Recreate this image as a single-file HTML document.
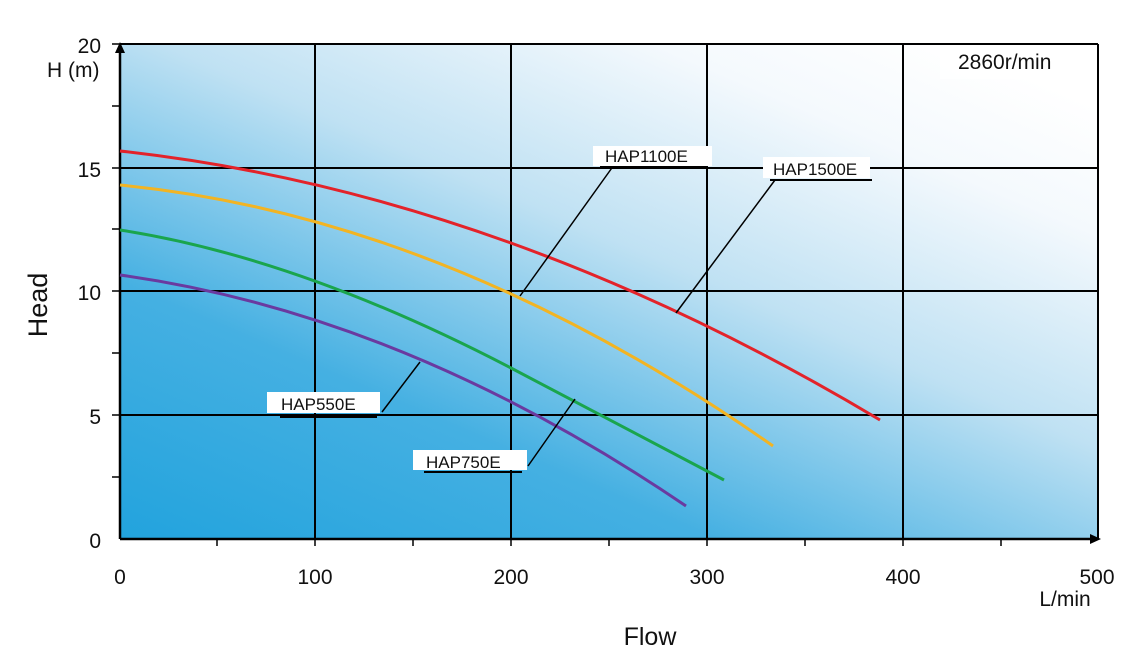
<!DOCTYPE html>
<html><head><meta charset="utf-8"><style>
body{margin:0;background:#fff;}
svg{display:block;font-family:"Liberation Sans","DejaVu Sans",sans-serif;}
</style></head><body>
<svg width="1145" height="670" viewBox="0 0 1145 670">
<defs>
<linearGradient id="bg" x1="0" y1="1" x2="0.85" y2="0" gradientUnits="objectBoundingBox">
<stop offset="0" stop-color="#22a3dd"/>
<stop offset="0.3" stop-color="#45b0e2"/>
<stop offset="0.6" stop-color="#bfe1f3"/>
<stop offset="0.85" stop-color="#f4f9fd"/>
<stop offset="1" stop-color="#ffffff"/>
</linearGradient>
</defs>
<rect x="120" y="44" width="978" height="495" fill="url(#bg)"/>
<rect x="940" y="47" width="150" height="32" fill="#fff" opacity="0.7"/>
<g stroke="#000" stroke-width="2" fill="none">
<line x1="315" y1="44" x2="315" y2="539"/>
<line x1="511" y1="44" x2="511" y2="539"/>
<line x1="707" y1="44" x2="707" y2="539"/>
<line x1="903" y1="44" x2="903" y2="539"/>
<line x1="120" y1="168" x2="1098" y2="168"/>
<line x1="120" y1="291" x2="1098" y2="291"/>
<line x1="120" y1="415" x2="1098" y2="415"/>
<line x1="120" y1="44" x2="1098" y2="44"/>
<line x1="1098" y1="44" x2="1098" y2="539"/>
<line x1="120" y1="539" x2="1092" y2="539" stroke-width="2.5"/>
<line x1="120" y1="52" x2="120" y2="539" stroke-width="2.5"/>
</g>
<g stroke="#000" stroke-width="1.5">
<line x1="112" y1="44" x2="120" y2="44"/><line x1="112" y1="106" x2="120" y2="106"/><line x1="112" y1="168" x2="120" y2="168"/><line x1="112" y1="229" x2="120" y2="229"/><line x1="112" y1="291" x2="120" y2="291"/><line x1="112" y1="353" x2="120" y2="353"/><line x1="112" y1="415" x2="120" y2="415"/><line x1="112" y1="477" x2="120" y2="477"/>
<line x1="217" y1="539" x2="217" y2="546"/><line x1="315" y1="539" x2="315" y2="546"/><line x1="413" y1="539" x2="413" y2="546"/><line x1="511" y1="539" x2="511" y2="546"/><line x1="609" y1="539" x2="609" y2="546"/><line x1="707" y1="539" x2="707" y2="546"/><line x1="805" y1="539" x2="805" y2="546"/><line x1="903" y1="539" x2="903" y2="546"/><line x1="1001" y1="539" x2="1001" y2="546"/>
</g>
<polygon points="115,53 120,42 125,53" fill="#000"/>
<polygon points="1090,534 1101,539 1090,544" fill="#000"/>
<g fill="none" stroke-width="3">
<path d="M120,151 Q500,192.7 880,420" stroke="#e3232a"/>
<path d="M120,185 Q446.5,217 773,446" stroke="#f2b423"/>
<path d="M120,230 Q300,258 511,368 Q620,425 724,480" stroke="#1aa54d"/>
<path d="M120,275 Q403,314 686,506" stroke="#6a3aa0"/>
</g>
<g stroke="#000" stroke-width="1.5">
<line x1="614" y1="165" x2="520" y2="296"/>
<line x1="775" y1="180" x2="676" y2="313"/>
<line x1="382" y1="412" x2="420" y2="362"/>
<line x1="528" y1="466" x2="575" y2="399"/>
</g>
<g font-size="17" fill="#111">
<rect x="593" y="146" width="119" height="20" fill="#fff"/><text x="605" y="162">HAP1100E</text><line x1="600" y1="167" x2="708" y2="167" stroke="#000" stroke-width="2"/>
<rect x="763" y="157" width="107" height="21" fill="#fff"/><text x="773" y="175">HAP1500E</text><line x1="770" y1="180" x2="872" y2="180" stroke="#000" stroke-width="2"/>
<rect x="267" y="392" width="113" height="21" fill="#fff"/><text x="281" y="410">HAP550E</text><line x1="280" y1="417" x2="377" y2="417" stroke="#000" stroke-width="2"/>
<rect x="413" y="450" width="114" height="20" fill="#fff"/><text x="426" y="468">HAP750E</text><line x1="424" y1="472" x2="522" y2="472" stroke="#000" stroke-width="2"/>
</g>
<g font-size="21" fill="#111">
<text x="958" y="69">2860r/min</text>
<text x="101" y="53" text-anchor="end">20</text>
<text x="47" y="77">H (m)</text>
<text x="101" y="177" text-anchor="end">15</text>
<text x="101" y="300" text-anchor="end">10</text>
<text x="101" y="424" text-anchor="end">5</text>
<text x="101" y="548" text-anchor="end">0</text>
<text x="120" y="584" text-anchor="middle">0</text>
<text x="315" y="584" text-anchor="middle">100</text>
<text x="511" y="584" text-anchor="middle">200</text>
<text x="707" y="584" text-anchor="middle">300</text>
<text x="903" y="584" text-anchor="middle">400</text>
<text x="1097" y="584" text-anchor="middle">500</text>
<text x="1065" y="606" text-anchor="middle">L/min</text>
</g>
<text x="650" y="645" font-size="25" text-anchor="middle" fill="#111">Flow</text>
<text x="0" y="0" font-size="27" fill="#111" transform="translate(47,305) rotate(-90)" text-anchor="middle">Head</text>
</svg>
</body></html>
